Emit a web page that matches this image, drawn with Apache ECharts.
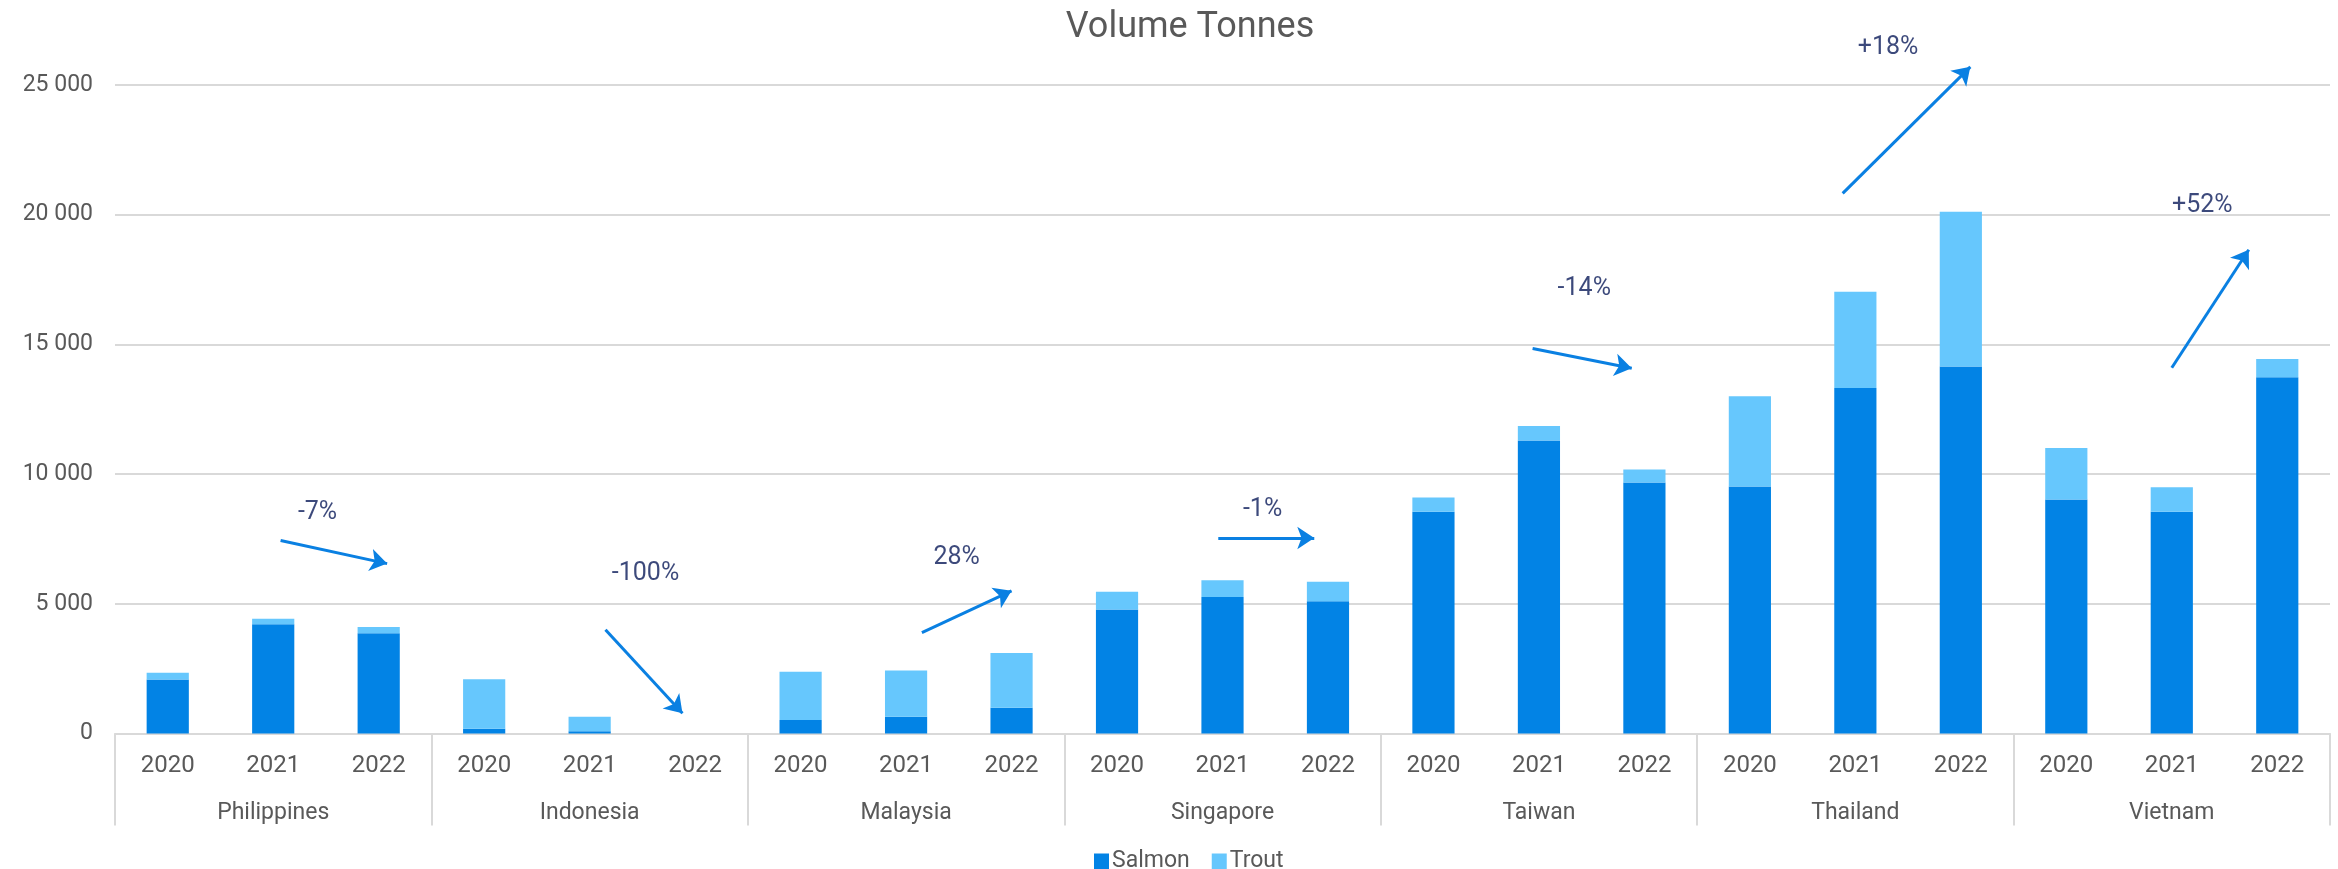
<!DOCTYPE html>
<html>
<head>
<meta charset="utf-8">
<title>Volume Tonnes</title>
<script src="https://cdn.jsdelivr.net/npm/echarts@6/dist/echarts.min.js"></script>
<style>
  html, body { margin: 0; padding: 0; background: #ffffff; }
  #chart { width: 2338px; height: 869px; }
</style>
</head>
<body>
<div id="chart"></div>
<script>
// Import volumes by market and year, split by species (tonnes)
const countries = ['Philippines', 'Indonesia', 'Malaysia', 'Singapore', 'Taiwan', 'Thailand', 'Vietnam'];
const years = ['2020', '2021', '2022'];
const salmon = [2080, 4212, 3863, 181, 90, 0, 517, 646, 995, 4780, 5258, 5103, 8553, 11300, 9677, 9522, 13320, 14144, 9018, 8553, 13732];
const trout = [260, 207, 246, 1912, 556, 0, 1860, 1783, 2106, 685, 646, 750, 543, 553, 504, 3478, 3707, 5972, 1986, 943, 708];
const yTicks = [0, 5000, 10000, 15000, 20000, 25000];

// Change 2021 -> 2022 per market, with arrow anchors in data units
// (x = category index, y = tonnes)
const changeLabels = ['-7%', '-100%', '28%', '-1%', '-14%', '+18%', '+52%'];
const changeLabelAnchors = [[1.42, 8510], [4.53, 6150], [7.48, 6780], [10.38, 8630], [13.43, 17140], [16.31, 26450], [19.29, 20360]];
const changeArrows = [
  [[1.07, 7440], [2.08, 6550]],
  [[4.15, 3996], [4.88, 780]],
  [[7.15, 3890], [8.0, 5500]],
  [[9.96, 7537], [10.87, 7537]],
  [[12.94, 14840], [13.88, 14080]],
  [[15.88, 20820], [17.09, 25700]],
  [[19.0, 14100], [19.73, 18650]]
];

const yearCategories = [];
countries.forEach(() => years.forEach(y => yearCategories.push(y)));

const FONT = 'Roboto, "Open Sans", sans-serif';
const GREY = '#595959';
const GRID_GREY = '#d9d9d9';
const SALMON = '#0283e5';
const TROUT = '#66c7fd';
const ARROW = '#0a80e2';
const NAVY = '#0b1c5a';

const chart = echarts.init(document.getElementById('chart'), null, { renderer: 'canvas' });

chart.setOption({
  animation: false,
  backgroundColor: '#ffffff',
  title: {
    text: 'Volume Tonnes',
    left: 1185,
    top: 5,
    textAlign: 'center',
    textStyle: { fontFamily: FONT, fontWeight: 'normal', fontSize: 36, color: GREY }
  },
  legend: {
    data: ['Salmon', 'Trout'],
    left: 1089,
    top: 845,
    itemWidth: 15,
    itemHeight: 16,
    itemGap: 22,
    icon: 'rect',
    textStyle: { fontFamily: FONT, fontSize: 23, color: GREY, padding: [0, 0, 0, -2] }
  },
  grid: { left: 115, right: 8, top: 85, bottom: 135.5, containLabel: false },
  xAxis: [
    {
      type: 'category',
      data: yearCategories,
      position: 'bottom',
      axisLine: { show: true, lineStyle: { color: GRID_GREY, width: 2 } },
      axisTick: { show: false },
      axisLabel: { fontFamily: FONT, fontSize: 24, color: GREY, margin: 20, interval: 0 },
      splitLine: { show: false }
    },
    {
      type: 'category',
      data: countries,
      position: 'bottom',
      axisLine: { show: false },
      axisTick: { show: true, length: 92, lineStyle: { color: GRID_GREY, width: 2 } },
      axisLabel: { fontFamily: FONT, fontSize: 23, color: GREY, margin: 68, interval: 0 },
      splitLine: { show: false }
    },
    {
      // value-scaled twin of the category axis, used to place the change arrows
      type: 'value',
      show: false,
      min: -0.5,
      max: yearCategories.length - 0.5,
      splitLine: { show: false }
    }
  ],
  yAxis: {
    type: 'value',
    min: yTicks[0],
    max: yTicks[yTicks.length - 1],
    interval: yTicks[1] - yTicks[0],
    axisLine: { show: false },
    axisTick: { show: false },
    axisLabel: {
      fontFamily: FONT, fontSize: 23, color: GREY, margin: 22,
      formatter: v => String(v).replace(/\B(?=(\d{3})+(?!\d))/g, ' ')
    },
    splitLine: { lineStyle: { color: GRID_GREY, width: 2 } }
  },
  series: [
    {
      name: 'Salmon',
      type: 'bar',
      stack: 'volume',
      xAxisIndex: 0,
      barWidth: '40%',
      itemStyle: { color: SALMON },
      data: salmon
    },
    {
      name: 'Trout',
      type: 'bar',
      stack: 'volume',
      xAxisIndex: 0,
      barWidth: '40%',
      itemStyle: { color: TROUT },
      data: trout
    },
    {
      name: 'change-arrows',
      type: 'lines',
      coordinateSystem: 'cartesian2d',
      xAxisIndex: 2,
      yAxisIndex: 0,
      clip: false,
      symbol: ['none', 'arrow'],
      symbolSize: 17,
      silent: true,
      lineStyle: { color: ARROW, width: 3, opacity: 1 },
      data: changeArrows.map(c => ({ coords: c }))
    },
    {
      name: 'change-labels',
      type: 'scatter',
      xAxisIndex: 2,
      yAxisIndex: 0,
      clip: false,
      symbolSize: 1,
      silent: true,
      itemStyle: { color: 'rgba(0,0,0,0)' },
      label: {
        show: true,
        position: 'inside',
        formatter: '{b}',
        fontFamily: FONT,
        fontSize: 25,
        color: NAVY
      },
      data: changeLabels.map((t, i) => ({ name: t, value: changeLabelAnchors[i] }))
    }
  ]
});
</script>
</body>
</html>
